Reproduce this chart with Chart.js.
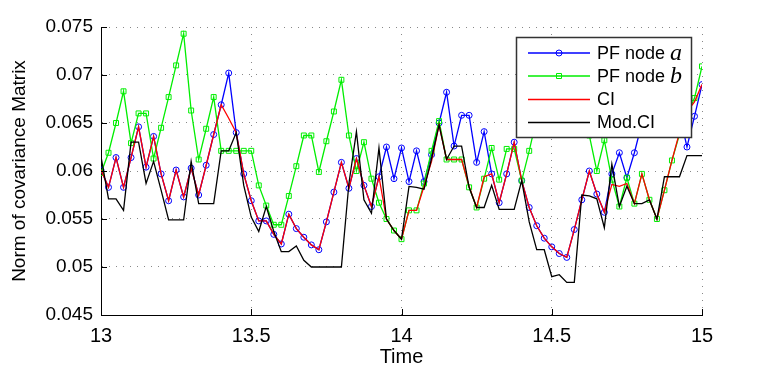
<!DOCTYPE html>
<html>
<head>
<meta charset="utf-8">
<script src="https://cdn.jsdelivr.net/npm/chart.js@4/dist/chart.umd.min.js"></script>
<style>
  html, body { margin: 0; padding: 0; background: #fff; }
  canvas { display: block; }
</style>
</head>
<body>
<canvas id="myChart" width="775" height="371"></canvas>
<script>
// time runs 13 -> 15 in steps of 0.025 (81 samples)
const times = [];
for (let i = 0; i <= 80; i++) {
    times.push(13 + i * 0.025);
}

const pfNodeA = [
    0.0601, 0.0583, 0.0614, 0.0583, 0.0614, 0.0646, 0.0604, 0.0636, 0.0597, 0.0569,
    0.0601, 0.0573, 0.0603, 0.0575, 0.0606, 0.0638, 0.0669, 0.0702, 0.0640, 0.0597,
    0.0569, 0.0548, 0.0548, 0.0534, 0.0524, 0.0555, 0.0540, 0.0531, 0.0523, 0.0518,
    0.0547, 0.0578, 0.0609, 0.0582, 0.0613, 0.0585, 0.0563, 0.0594, 0.0625, 0.0592,
    0.0624, 0.0589, 0.0621, 0.0589, 0.0617, 0.0650, 0.0682, 0.0626, 0.0658, 0.0658,
    0.0609, 0.0641, 0.0597, 0.0567, 0.0597, 0.0630, 0.0590, 0.0562, 0.0543, 0.0530,
    0.0521, 0.0514, 0.0510, 0.0539, 0.0570, 0.0600, 0.0576, 0.0557, 0.0597, 0.0619,
    0.0593, 0.0619, 0.0650, 0.0660, 0.0645, 0.0655, 0.0640, 0.0660, 0.0625, 0.0657,
    0.0690
];

const pfNodeB = [
    0.0598, 0.0619, 0.0650, 0.0683, 0.0629, 0.0660, 0.0660, 0.0613, 0.0645, 0.0677,
    0.0710, 0.0743, 0.0663, 0.0612, 0.0644, 0.0677, 0.0621, 0.0621, 0.0621, 0.0621,
    0.0621, 0.0585, 0.0564, 0.0544, 0.0544, 0.0574, 0.0605, 0.0637, 0.0637, 0.0599,
    0.0631, 0.0662, 0.0695, 0.0637, 0.0600, 0.0630, 0.0592, 0.0567, 0.0550, 0.0538,
    0.0529, 0.0559, 0.0559, 0.0587, 0.0621, 0.0652, 0.0612, 0.0612, 0.0612, 0.0583,
    0.0562, 0.0592, 0.0624, 0.0591, 0.0623, 0.0623, 0.0590, 0.0621, 0.0655, 0.0665,
    0.0650, 0.0668, 0.0655, 0.0670, 0.0655, 0.0637, 0.0600, 0.0632, 0.0591, 0.0563,
    0.0593, 0.0566, 0.0597, 0.0570, 0.0550, 0.0580, 0.0611, 0.0638, 0.0658, 0.0676,
    0.0709
];

const ci = [
    0.0601, 0.0583, 0.0614, 0.0583, 0.0614, 0.0646, 0.0604, 0.0636, 0.0597, 0.0569,
    0.0601, 0.0573, 0.0603, 0.0575, 0.0606, 0.0638, 0.0669, 0.0655, 0.0640, 0.0597,
    0.0569, 0.0548, 0.0548, 0.0534, 0.0524, 0.0555, 0.0540, 0.0531, 0.0523, 0.0518,
    0.0547, 0.0578, 0.0609, 0.0582, 0.0613, 0.0585, 0.0563, 0.0594, 0.0550, 0.0538,
    0.0529, 0.0559, 0.0559, 0.0584, 0.0610, 0.0648, 0.0612, 0.0612, 0.0612, 0.0584,
    0.0562, 0.0594, 0.0597, 0.0567, 0.0597, 0.0630, 0.0590, 0.0562, 0.0543, 0.0530,
    0.0521, 0.0514, 0.0510, 0.0539, 0.0570, 0.0600, 0.0576, 0.0557, 0.0586, 0.0584,
    0.0587, 0.0566, 0.0597, 0.0570, 0.0550, 0.0580, 0.0611, 0.0640, 0.0662, 0.0672,
    0.0690
];

const modCi = [
    0.0615, 0.0571, 0.0571, 0.0559, 0.0630, 0.0630, 0.0587, 0.0610, 0.0580, 0.0549,
    0.0549, 0.0549, 0.0610, 0.0566, 0.0566, 0.0566, 0.0621, 0.0621, 0.0640, 0.0585,
    0.0552, 0.0537, 0.0563, 0.0537, 0.0516, 0.0516, 0.0522, 0.0507, 0.0500, 0.0500,
    0.0500, 0.0500, 0.0500, 0.0587, 0.0641, 0.0570, 0.0556, 0.0624, 0.0550, 0.0538,
    0.0529, 0.0584, 0.0583, 0.0581, 0.0613, 0.0648, 0.0612, 0.0626, 0.0626, 0.0583,
    0.0562, 0.0562, 0.0585, 0.0560, 0.0560, 0.0560, 0.0590, 0.0547, 0.0518, 0.0518,
    0.0490, 0.0492, 0.0484, 0.0484, 0.0575, 0.0574, 0.0571, 0.0541, 0.0607, 0.0563,
    0.0584, 0.0566, 0.0566, 0.0570, 0.0550, 0.0594, 0.0594, 0.0594, 0.0616, 0.0616,
    0.0616
];

const xTicks = [13, 13.5, 14, 14.5, 15];
const yTicks = [0.045, 0.05, 0.055, 0.06, 0.065, 0.07, 0.075];

const seriesNames = ['PF node ', 'PF node ', 'CI', 'Mod.CI'];
const seriesItalic = ['a', 'b', '', ''];

function toPoints(values) {
    return values.map((v, i) => ({ x: times[i], y: v }));
}

const sansFont = 'Liberation Sans, Arial, sans-serif';
const narrowFont = 'Liberation Sans Narrow, Liberation Sans, Arial, sans-serif';

// legend box drawn inside the plot, plus inward tick marks like matlab
const matlabBits = {
    id: 'matlabBits',
    afterDraw(chart) {
        const c = chart.ctx;
        const area = chart.chartArea;
        const xs = chart.scales.x;
        const ys = chart.scales.y;

        c.save();
        c.strokeStyle = '#000';
        c.lineWidth = 1;
        c.beginPath();
        for (let t of xTicks) {
            const px = Math.round(xs.getPixelForValue(t)) + 0.5;
            c.moveTo(px, area.bottom);
            c.lineTo(px, area.bottom - 6);
        }
        for (let t of yTicks) {
            const py = Math.round(ys.getPixelForValue(t)) + 0.5;
            c.moveTo(area.left, py);
            c.lineTo(area.left + 6, py);
        }
        c.stroke();

        // legend
        const bx = 516.5, by = 37.5, bw = 175, bh = 100;
        c.fillStyle = '#fff';
        c.fillRect(bx, by, bw, bh);
        c.strokeStyle = '#333';
        c.lineWidth = 1.5;
        c.strokeRect(bx, by, bw, bh);

        const rows = [53, 76, 99.5, 122.5];
        chart.data.datasets.forEach((ds, i) => {
            const y = rows[i];
            c.strokeStyle = ds.borderColor;
            c.lineWidth = 1.3;
            c.beginPath();
            c.moveTo(528, y);
            c.lineTo(590, y);
            c.stroke();
            if (ds.pointRadius > 0) {
                c.lineWidth = 1;
                c.beginPath();
                if (ds.pointStyle === 'circle') {
                    c.arc(559, y, 3, 0, Math.PI * 2);
                } else {
                    c.rect(556.5, y - 2.5, 5, 5);
                }
                c.stroke();
            }
            c.fillStyle = '#000';
            c.textBaseline = 'middle';
            c.textAlign = 'left';
            c.font = '18px ' + sansFont;
            c.fillText(seriesNames[i], 597, y + 1);
            if (seriesItalic[i]) {
                const w = c.measureText(seriesNames[i]).width;
                c.font = 'italic 24px Liberation Serif, DejaVu Serif, serif';
                c.fillText(seriesItalic[i], 597 + w, y + 1);
            }
        });
        c.restore();
    }
};

var ctx = document.getElementById('myChart').getContext('2d');
var myChart = new Chart(ctx, {
    type: 'line',
    data: {
        datasets: [
            {
                label: 'PF node a',
                data: toPoints(pfNodeA),
                borderColor: '#0000ff',
                backgroundColor: 'rgba(0,0,0,0)',
                borderWidth: 1.3,
                pointStyle: 'circle',
                pointRadius: 3,
                pointBorderWidth: 1,
                order: 4
            },
            {
                label: 'PF node b',
                data: toPoints(pfNodeB),
                borderColor: '#00ee00',
                backgroundColor: 'rgba(0,0,0,0)',
                borderWidth: 1.3,
                pointStyle: 'rect',
                pointRadius: 3.5,
                pointBorderWidth: 1,
                order: 3
            },
            {
                label: 'CI',
                data: toPoints(ci),
                borderColor: '#ff0000',
                borderWidth: 1.3,
                pointRadius: 0,
                order: 2
            },
            {
                label: 'Mod.CI',
                data: toPoints(modCi),
                borderColor: '#000000',
                borderWidth: 1.3,
                pointRadius: 0,
                order: 1
            }
        ]
    },
    options: {
        responsive: false,
        animation: false,
        devicePixelRatio: 1,
        layout: {
            padding: { top: 27, right: 73, left: 0, bottom: 0 }
        },
        elements: {
            line: { tension: 0 }
        },
        plugins: {
            legend: { display: false },
            tooltip: { enabled: false }
        },
        scales: {
            x: {
                type: 'linear',
                min: 13,
                max: 15,
                afterBuildTicks: (scale) => {
                    scale.ticks = xTicks.map(v => ({ value: v }));
                },
                afterFit: (scale) => { scale.height = 56; },
                ticks: {
                    color: '#000',
                    padding: 9,
                    maxRotation: 0,
                    font: { family: narrowFont, size: 20 },
                    callback: (v) => String(v)
                },
                grid: {
                    color: '#888',
                    drawTicks: false
                },
                border: {
                    color: '#000',
                    dash: [1, 6]
                },
                title: {
                    display: true,
                    text: 'Time',
                    color: '#000',
                    font: { family: narrowFont, size: 20 },
                    padding: { top: 0, bottom: 2 }
                }
            },
            y: {
                min: 0.045,
                max: 0.075,
                afterBuildTicks: (scale) => {
                    scale.ticks = yTicks.map(v => ({ value: v }));
                },
                afterFit: (scale) => { scale.width = 101; },
                ticks: {
                    color: '#000',
                    padding: 8,
                    font: { family: sansFont, size: 19 },
                    callback: (v) => String(Number(v.toFixed(3)))
                },
                grid: {
                    color: '#888',
                    drawTicks: false
                },
                border: {
                    color: '#000',
                    dash: [1, 6]
                },
                title: {
                    display: true,
                    text: 'Norm of covariance Matrix',
                    color: '#000',
                    font: { family: sansFont, size: 19 },
                    padding: { top: 8, bottom: 0 }
                }
            }
        }
    },
    plugins: [matlabBits]
});
</script>
</body>
</html>
